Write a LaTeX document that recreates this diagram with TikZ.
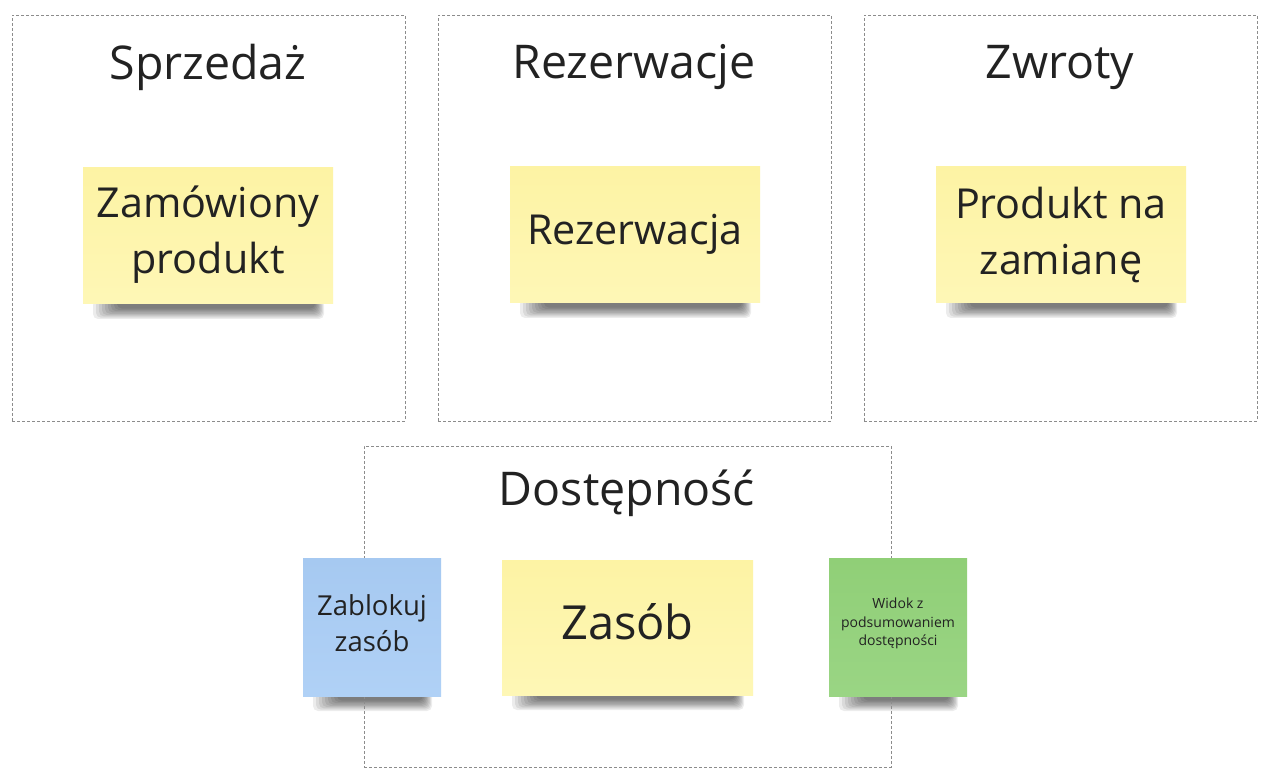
\documentclass[tikz,border=0pt]{standalone}
\usepackage{fontspec}
\setmainfont{Open Sans}
\definecolor{framegray}{HTML}{8C8C8C}
\definecolor{ink}{HTML}{222222}
\definecolor{ytop}{HTML}{FDF3A4}
\definecolor{ybot}{HTML}{FEF7B6}
\definecolor{btop}{HTML}{A6C9F1}
\definecolor{bbot}{HTML}{B0D1F6}
\definecolor{gtop}{HTML}{90CF77}
\definecolor{gbot}{HTML}{9AD584}
\tikzset{
  framebox/.style={draw=framegray, line width=0.8pt, dash pattern=on 3pt off 2pt, inner sep=0pt},
  title/.style={text=ink, font=\fontsize{46.5}{52}\selectfont, inner sep=0pt},
  sticky/.style={inner sep=0pt, draw=none},
  yellowsticky/.style={sticky, top color=ytop, bottom color=ybot, minimum width=250pt, minimum height=136pt},
  bluesticky/.style={sticky, top color=btop, bottom color=bbot, minimum width=138pt, minimum height=138pt},
  greensticky/.style={sticky, top color=gtop, bottom color=gbot, minimum width=138pt, minimum height=138pt},
  stickytext/.style={text=ink, align=center, inner sep=0pt},
  shadowpiece/.style={fill=black, fill opacity=0.075, draw=none, rounded corners=5pt}
}
% #1 left x, #2 right x, #3 bottom y (y grows downward)
\newcommand{\stickyshadow}[3]{%
  \foreach \k in {0,...,8}{%
    \fill[shadowpiece] ({#1+10+3*\k},{#3-4}) rectangle ({#2-9-1.1*\k},{#3+15-1.3*\k});
  }}
\begin{document}
\begin{tikzpicture}[x=1pt,y=-1pt]
\fill[white] (0,0) rectangle (1276,783);
\useasboundingbox (0,0) rectangle (1276,783);

\stickyshadow{83}{333}{304}
\stickyshadow{510}{760}{303}
\stickyshadow{936}{1186}{303}
\stickyshadow{502}{753}{695}
\stickyshadow{303}{441}{696}
\stickyshadow{829}{967}{696}

\node[framebox, minimum width=393pt, minimum height=406pt] (f1) at (208.5,218) {};
\node[framebox, minimum width=393pt, minimum height=406pt] (f2) at (634.5,218) {};
\node[framebox, minimum width=393pt, minimum height=406pt] (f3) at (1060.5,218) {};
\node[framebox, minimum width=527pt, minimum height=321pt] (f4) at (627.5,606.5) {};
\node[title] (t1) at (208,67) {Sprzedaż};
\node[title] (t2) at (634,67) {Rezerwacje};
\node[title] (t3) at (1060,67) {Zwroty};
\node[title] (t4) at (627,493) {Dostępność};

\node[yellowsticky] (s1) at (208,236) {};
\node[stickytext, font=\fontsize{41.3}{56}\selectfont] (l1) at (208,234.5) {Zamówiony\\produkt};
\node[yellowsticky] (s2) at (635,235) {};
\node[stickytext, font=\fontsize{41.3}{56}\selectfont] (l2) at (635,234) {Rezerwacja};
\node[yellowsticky] (s3) at (1061,235) {};
\node[stickytext, font=\fontsize{41.3}{56}\selectfont] (l3) at (1061,234.5) {Produkt na\\zamianę};
\node[yellowsticky, minimum width=251pt, minimum height=135pt] (s4) at (627.5,627.5) {};
\node[stickytext, font=\fontsize{47}{56}\selectfont] (l4) at (627.5,622) {Zasób};
\node[bluesticky] (s5) at (372,627) {};
\node[stickytext, font=\fontsize{27.5}{36}\selectfont] (l5) at (372,623) {Zablokuj\\zasób};
\node[greensticky] (s6) at (898,627) {};
\node[stickytext, font=\fontsize{14}{18.5}\selectfont] (l6) at (898,623.5) {Widok z\\podsumowaniem\\dostępności};
\end{tikzpicture}
\end{document}
